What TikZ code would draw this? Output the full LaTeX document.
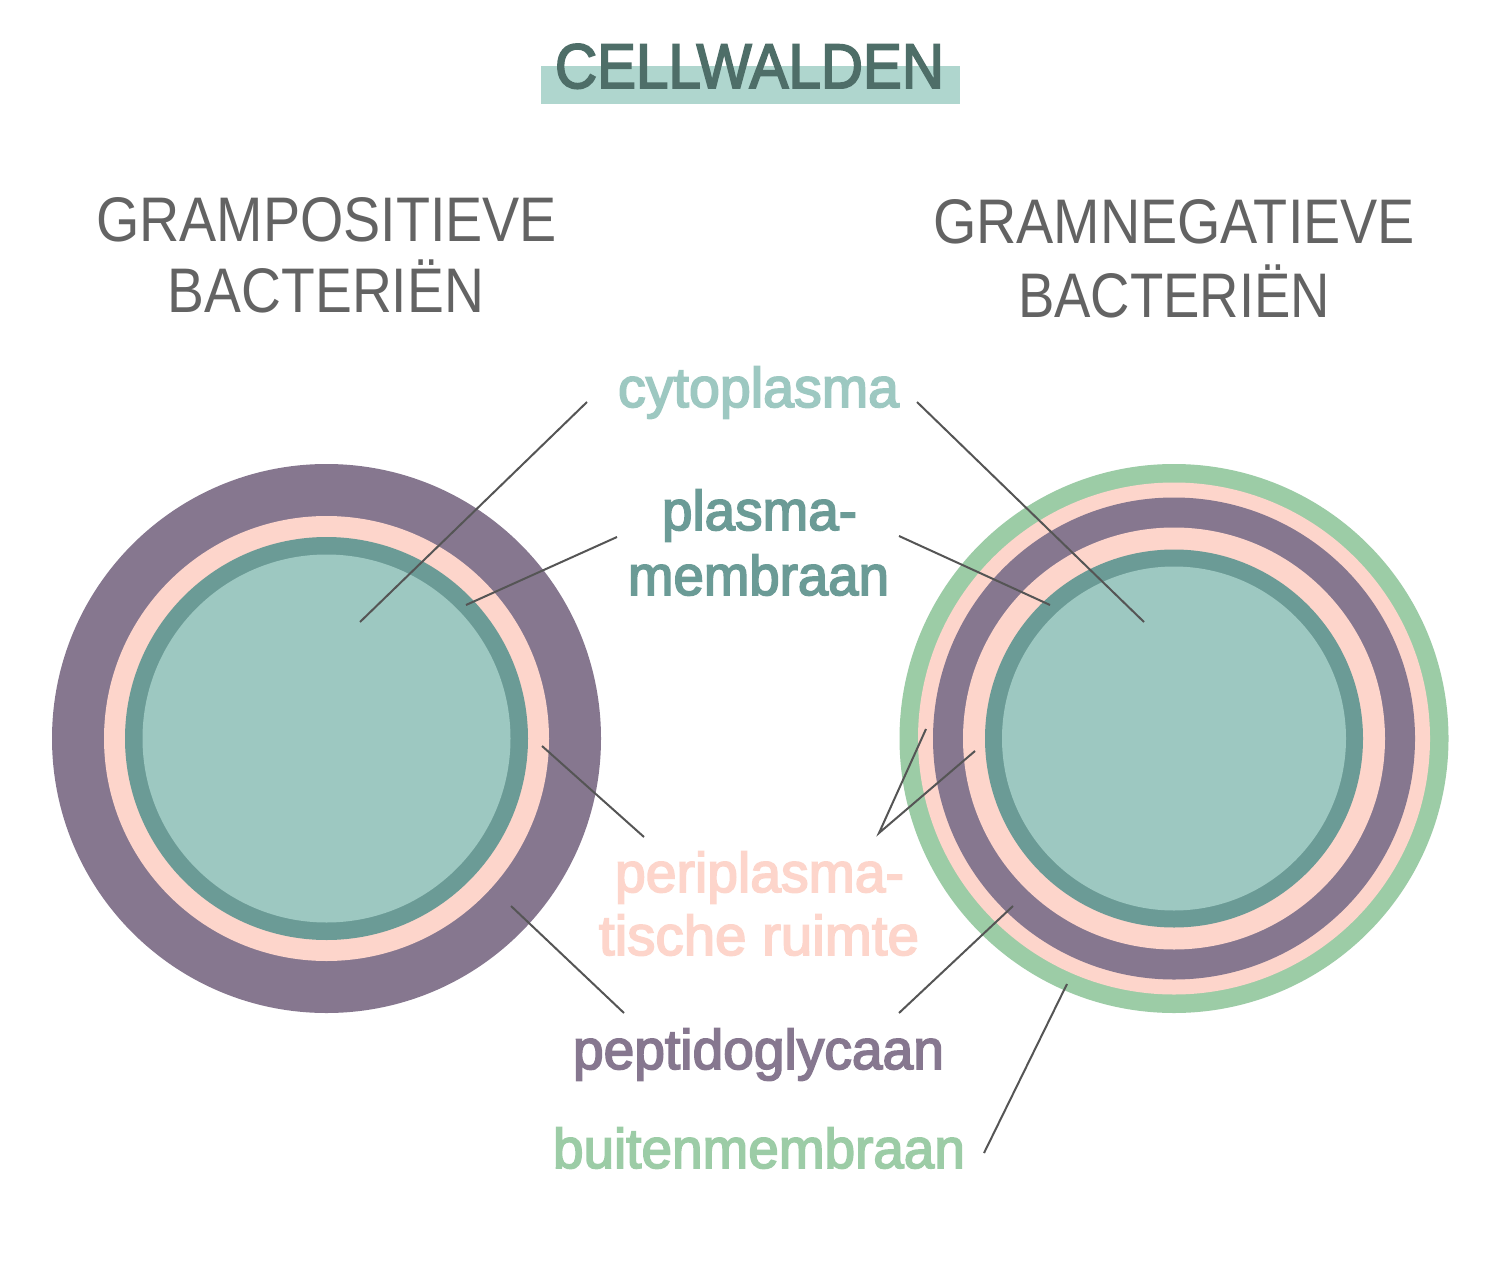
\documentclass[tikz,border=0pt]{standalone}
\usepackage{fontspec}
\usepackage{graphicx}
\setmainfont{Liberation Sans}
\newfontfamily\medfont{Liberation Sans}[FakeBold=3]
\definecolor{titletxt}{HTML}{4E6E68}
\definecolor{titlebar}{HTML}{AFD6CE}
\definecolor{headgray}{HTML}{636363}
\definecolor{cytocol}{HTML}{9DC8C1}
\definecolor{memcol}{HTML}{6B9B96}
\definecolor{pericol}{HTML}{FDD5CB}
\definecolor{peptcol}{HTML}{86778F}
\definecolor{outercol}{HTML}{9CCCA6}
\definecolor{linecol}{HTML}{555555}
\newcommand\fitw[2]{\resizebox{#1pt}{\height}{#2}}
\begin{document}
\begin{tikzpicture}[x=1pt,y=-1pt,
  txt/.style={anchor=base,inner sep=0pt,outer sep=0pt},
  head/.style={txt,text=headgray,font=\fontsize{63}{70}\selectfont},
  lbl/.style={txt,font=\medfont\fontsize{56}{64}\selectfont},
  leader/.style={draw=linecol,line width=2pt}]
\useasboundingbox (0,0) rectangle (1501,1281);
\fill[white] (0,0) rectangle (1501,1281);

% title
\fill[titlebar] (541,66) rectangle (960,104);
\node[txt,text=titletxt,font=\medfont\fontsize{63}{70}\selectfont] (title) at (749.5,88) {\fitw{389}{CELLWALDEN}};

% headings
\node[head] (gp1) at (326.5,242) {\fitw{461}{GRAMPOSITIEVE}};
\node[head] (gp2) at (326,312) {\fitw{316}{BACTERIËN}};
\node[head] (gn1) at (1174,244) {\fitw{482}{GRAMNEGATIEVE}};
\node[head] (gn2) at (1174,317) {\fitw{312}{BACTERIËN}};

% gram-positive cell
\fill[peptcol] (326.5,738.5) circle (274.5pt);
\fill[pericol] (326.5,738.5) circle (222.5pt);
\fill[memcol] (326.5,738.5) circle (201.5pt);
\fill[cytocol] (326.5,738.5) circle (184pt);

% gram-negative cell
\fill[outercol] (1174,738.5) circle (274.5pt);
\fill[pericol] (1174,738.5) circle (256pt);
\fill[peptcol] (1174,738.5) circle (241pt);
\fill[pericol] (1174,738.5) circle (211pt);
\fill[memcol] (1174,738.5) circle (189pt);
\fill[cytocol] (1174,738.5) circle (172pt);

% labels
\node[lbl,text=cytocol] (cyto) at (758.5,407) {\fitw{281}{cytoplasma}};
\node[lbl,text=memcol] (memA) at (759.5,530) {\fitw{195}{plasma-}};
\node[lbl,text=memcol] (memB) at (758.5,595) {\fitw{261}{membraan}};
\node[lbl,text=pericol] (periA) at (759.5,892) {\fitw{289}{periplasma-}};
\node[lbl,text=pericol] (periB) at (759,955) {\fitw{320}{tische ruimte}};
\node[lbl,text=peptcol] (pept) at (758.5,1069) {\fitw{371}{peptidoglycaan}};
\node[lbl,text=outercol] (outer) at (759,1168) {\fitw{412}{buitenmembraan}};

% leader coordinates
\coordinate (cL0) at (587,402);   \coordinate (cL1) at (360,622);
\coordinate (mL0) at (617,537);   \coordinate (mL1) at (466,605);
\coordinate (pL0) at (644,837);   \coordinate (pL1) at (542,746);
\coordinate (gL0) at (624,1013);  \coordinate (gL1) at (511,906);
\coordinate (cR0) at (917,402);   \coordinate (cR1) at (1144,622);
\coordinate (mR0) at (899,536);   \coordinate (mR1) at (1050,605);
\coordinate (pR0) at (879,833);   \coordinate (pR1) at (926,729);  \coordinate (pR2) at (975,751);
\coordinate (gR0) at (899,1013);  \coordinate (gR1) at (1013,906);
\coordinate (oR0) at (984,1153);  \coordinate (oR1) at (1067,984);

% leaders
\draw[leader] (cL0) -- (cL1);
\draw[leader] (mL0) -- (mL1);
\draw[leader] (pL0) -- (pL1);
\draw[leader] (gL0) -- (gL1);
\draw[leader] (cR0) -- (cR1);
\draw[leader] (mR0) -- (mR1);
\draw[leader] (pR1) -- (pR0) -- (pR2);
\draw[leader] (gR0) -- (gR1);
\draw[leader] (oR0) -- (oR1);
\end{tikzpicture}
\end{document}
